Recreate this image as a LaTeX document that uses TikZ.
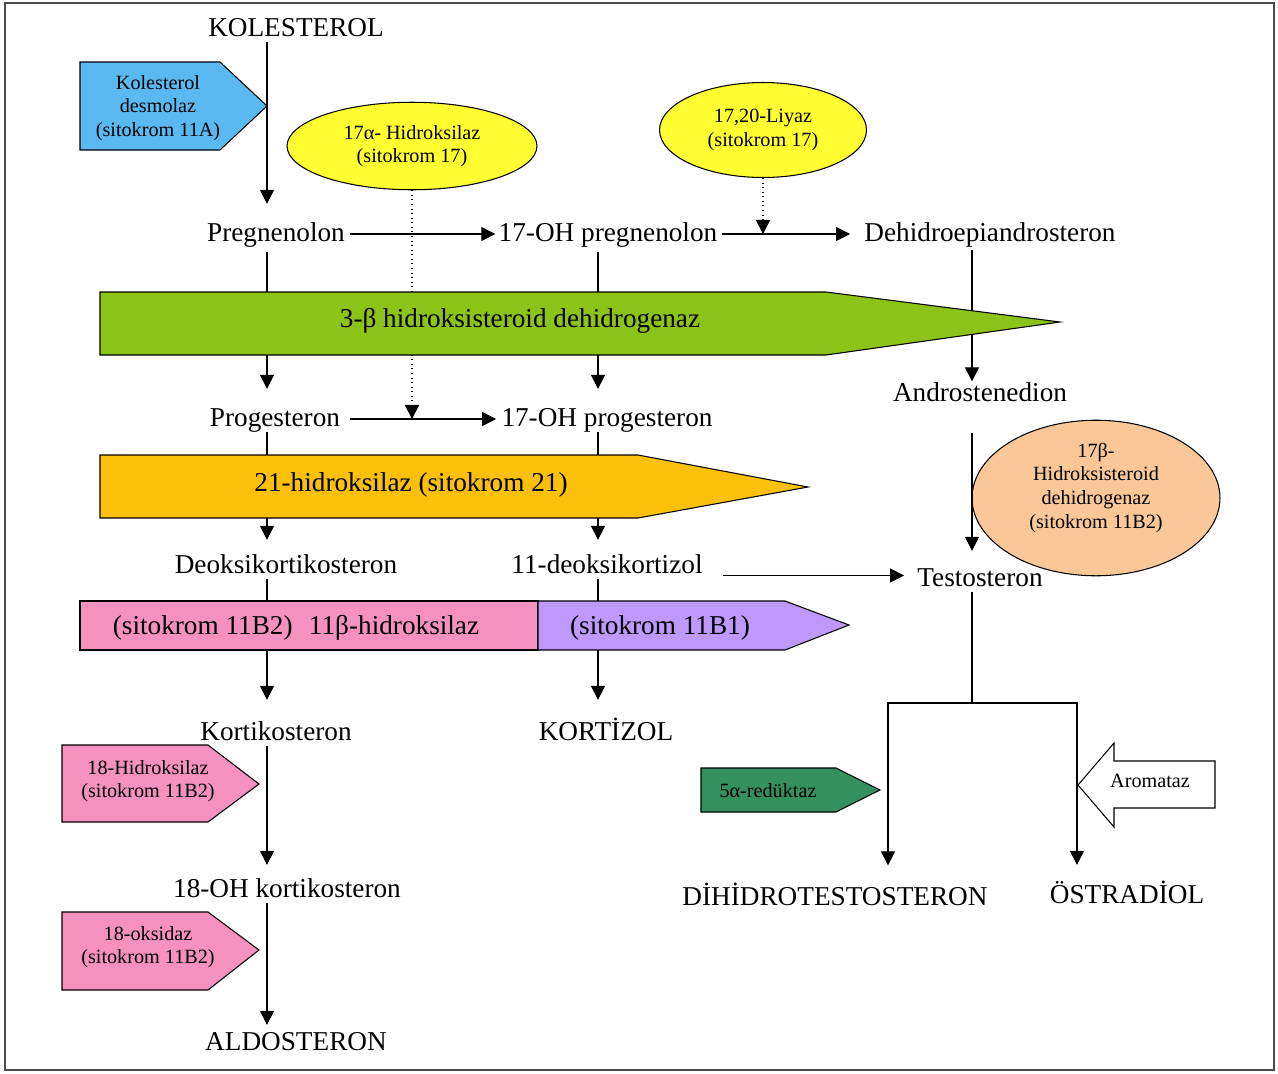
\documentclass[tikz,border=0pt]{standalone}
\usepackage{fontspec}
\setmainfont{Liberation Serif}
\usetikzlibrary{arrows.meta,shapes.geometric}
\definecolor{desmolazblue}{RGB}{90,185,240}
\definecolor{hsdgreen}{RGB}{140,195,25}
\definecolor{hidroksilazorange}{RGB}{250,192,10}
\definecolor{enzpink}{RGB}{245,145,190}
\definecolor{enzpurple}{RGB}{190,152,250}
\definecolor{ovalyellow}{RGB}{255,255,50}
\definecolor{ovalpeach}{RGB}{250,200,152}
\definecolor{reduktazgreen}{RGB}{52,145,95}

\begin{document}
\begin{tikzpicture}[x=0.02cm,y=-0.02cm,
	mol/.style={font=\fontsize{15.5}{18}\selectfont, inner sep=0pt, text height=11pt, text depth=3pt},
	enz/.style={draw, line width=0.6pt},
	enztext/.style={font=\fontsize{11.5}{13.5}\selectfont, align=center, inner sep=0pt},
	bartext/.style={font=\fontsize{15.5}{18}\selectfont, inner sep=0pt},
	oval/.style={ellipse, draw, line width=0.6pt, inner sep=0pt, align=center, font=\fontsize{11.5}{13.5}\selectfont},
	arr/.style={-{Triangle[length=8pt,width=8pt]}, line width=0.6pt},
	dotarr/.style={arr, dotted, line width=1.1pt}]
	\useasboundingbox (0,0) rectangle (1278,1073);
	\draw[line width=0.6pt, black!70] (5,3) rectangle (1274,1070);

	\coordinate (colA) at (267,0);
	\coordinate (colB) at (598,0);
	\coordinate (colC) at (972,0);
	\coordinate (colD) at (888,0);
	\coordinate (colE) at (1077,0);
	\coordinate (split) at (972,703);

	\node[oval, fill=ovalyellow, minimum width=5cm, minimum height=1.75cm] (hidroksilaz17) at (412,146) {17α- Hidroksilaz\\(sitokrom 17)};
	\node[oval, fill=ovalyellow, minimum width=4.14cm, minimum height=1.9cm] (liyaz) at (763,130) {17,20-Liyaz\\(sitokrom 17)};
	\node[oval, fill=ovalpeach, minimum width=4.96cm, minimum height=3.05cm, text depth=14pt] (hsd17) at (1096,498) {17β-\\Hidroksisteroid\\dehidrogenaz\\(sitokrom 11B2)};

	\node[mol] (kolesterol) at (296,29) {KOLESTEROL};
	\node[mol] (pregnenolon) at (276,234) {Pregnenolon};
	\node[mol] (hop17) at (608,234) {17-OH pregnenolon};
	\node[mol] (dhea) at (990,234) {Dehidroepiandrosteron};
	\node[mol] (androstenedion) at (980,394) {Androstenedion};
	\node[mol] (progesteron) at (275,419) {Progesteron};
	\node[mol] (ohprog) at (607,419) {17-OH progesteron};
	\node[mol] (deoksikortikosteron) at (286,566) {Deoksikortikosteron};
	\node[mol] (deoksikortizol) at (607,566) {11-deoksikortizol};
	\node[mol] (testosteron) at (980,579) {Testosteron};
	\node[mol] (kortikosteron) at (276,733) {Kortikosteron};
	\node[mol] (kortizol) at (606,733) {KORTİZOL};
	\node[mol] (ohkorti) at (287,890) {18-OH kortikosteron};
	\node[mol] (aldosteron) at (296,1043) {ALDOSTERON};
	\node[mol] (dht) at (835,898) {DİHİDROTESTOSTERON};
	\node[mol] (ostradiol) at (1127,896) {ÖSTRADİOL};

	\draw[arr, shorten >=0.35cm] (kolesterol.south -| colA) -- (pregnenolon.north -| colA);
	\draw[arr, shorten <=0.1cm, shorten >=0.06cm] (pregnenolon.east) -- (hop17.west);
	\draw[arr, shorten <=0.08cm, shorten >=0.28cm] (hop17.east) -- (dhea.west);
	\draw[arr, shorten <=0.1cm, shorten >=0.35cm] (pregnenolon.south -| colA) -- (progesteron.north -| colA);
	\draw[arr, shorten <=0.1cm, shorten >=0.35cm] (hop17.south -| colB) -- (ohprog.north -| colB);
	\draw[arr, shorten <=0.06cm] (dhea.south -| colC) -- (androstenedion.north -| colC);
	\draw[arr, shorten <=0.2cm, shorten >=0.1cm] (progesteron.east) -- (ohprog.west);
	\draw[arr, shorten <=0.53cm, shorten >=0.31cm] (androstenedion.south -| colC) -- (testosteron.north -| colC);
	\draw[arr, shorten >=0.27cm] (progesteron.south -| colA) -- (deoksikortikosteron.north -| colA);
	\draw[arr, shorten >=0.27cm] (ohprog.south -| colB) -- (deoksikortizol.north -| colB);
	\draw[arr, shorten <=0.4cm, shorten >=0.26cm] ([yshift=2pt]deoksikortizol.east |- testosteron.west) -- ([yshift=2pt]testosteron.west);
	\draw[arr, shorten >=0.41cm] (deoksikortikosteron.south -| colA) -- (kortikosteron.north -| colA);
	\draw[arr, shorten >=0.41cm] (deoksikortizol.south -| colB) -- (kortizol.north -| colB);
	\draw[arr, shorten >=0.25cm] (kortikosteron.south -| colA) -- (ohkorti.north -| colA);
	\draw[arr, shorten >=0.11cm] (ohkorti.south -| colA) -- (aldosteron.north -| colA);
	\draw[line width=0.6pt] (testosteron.south -| colC) -- (split);
	\draw[arr, shorten >=0.4cm] (split) -| (dht.north -| colD);
	\draw[arr, shorten >=0.37cm] (split) -| (ostradiol.north -| colE);
	\draw[dotarr] (hidroksilaz17.south) -- (hidroksilaz17.south |- progesteron.east);
	\draw[dotarr] (liyaz.south) -- (liyaz.south |- dhea.west);

	\draw[enz, fill=desmolazblue] (80,62) -- (220,62) -- (267,106) -- (220,150) -- (80,150) -- cycle;
	\node[enztext] (desmolaz) at (158,108) {Kolesterol\\desmolaz\\(sitokrom 11A)};

	\draw[enz, fill=hsdgreen] (100,292) -- (826,292) -- (1060,322) -- (826,355) -- (100,355) -- cycle;
	\node[bartext] (hsd3) at (520,321) {3-β hidroksisteroid dehidrogenaz};

	\draw[enz, fill=hidroksilazorange] (100,455) -- (638,455) -- (808,487) -- (638,518) -- (100,518) -- cycle;
	\node[bartext] (hidroksilaz21) at (411,485) {21-hidroksilaz (sitokrom 21)};

	\draw[enz, fill=enzpink] (80,601) rectangle (538,650);
	\draw[enz, fill=enzpurple] (538,601) -- (785,601) -- (849,625) -- (785,650) -- (538,650) -- cycle;
	\node[bartext] (hidroksilaz11b2) at (296,628) {(sitokrom 11B2)\hspace{0.6em}11β-hidroksilaz};
	\node[bartext] (hidroksilaz11b1) at (660,628) {(sitokrom 11B1)};

	\draw[enz, fill=enzpink] (62,745) -- (208,745) -- (259,784) -- (208,822) -- (62,822) -- cycle;
	\node[enztext] (hidroksilaz18) at (148,781) {18-Hidroksilaz\\(sitokrom 11B2)};

	\draw[enz, fill=enzpink] (62,912) -- (208,912) -- (259,950) -- (208,990) -- (62,990) -- cycle;
	\node[enztext] (oksidaz18) at (148,947) {18-oksidaz\\(sitokrom 11B2)};

	\draw[enz, fill=reduktazgreen] (701,768) -- (836,768) -- (880,790) -- (836,812) -- (701,812) -- cycle;
	\node[enztext] (reduktaz) at (768,791) {5α-redüktaz};

	\draw[enz, fill=white] (1078,785) -- (1114,743) -- (1114,761) -- (1215,761) -- (1215,808) -- (1114,808) -- (1114,827) -- cycle;
	\node[enztext] (aromataz) at (1150,781) {Aromataz};
\end{tikzpicture}
\end{document}
